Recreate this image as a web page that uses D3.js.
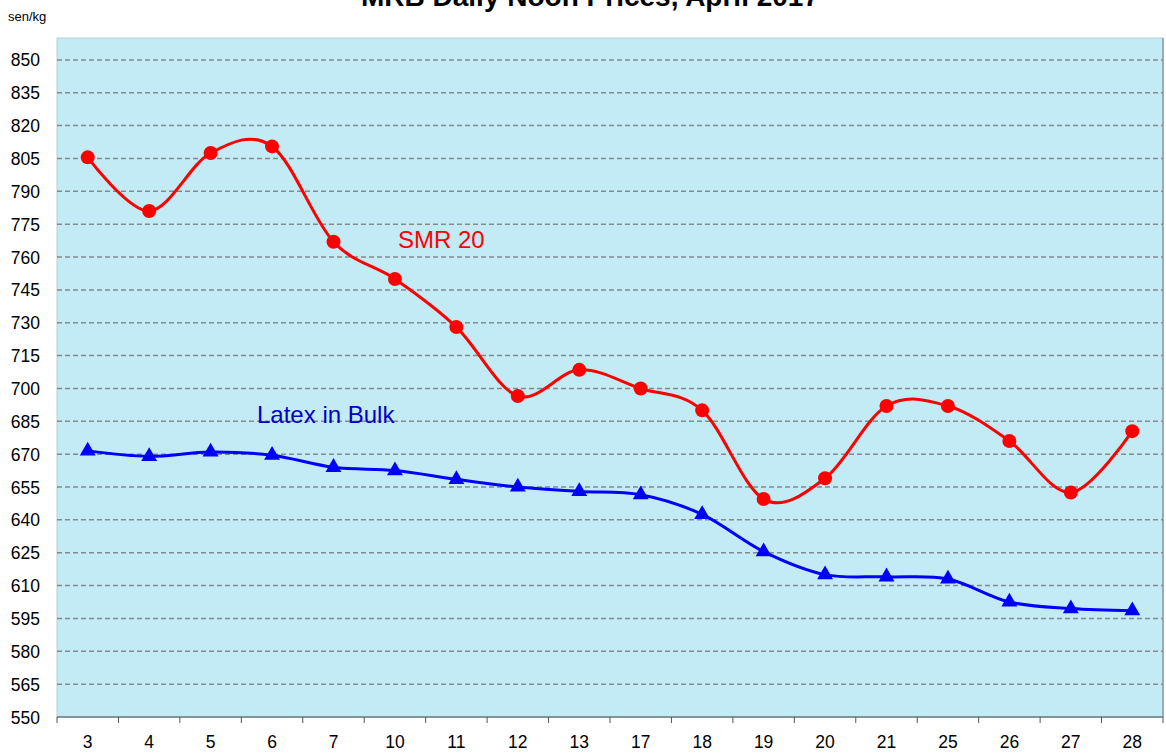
<!DOCTYPE html>
<html>
<head>
<meta charset="utf-8">
<script src="https://cdn.jsdelivr.net/npm/d3@7"></script>
<style>
  body { margin: 0; background: #fff; }
  text { font-family: "Liberation Sans", Arial, sans-serif; }
</style>
</head>
<body>
<div id="chart"></div>
<script>
var days = ["3","4","5","6","7","10","11","12","13","17","18","19","20","21","25","26","27","28"];
var smr20 = [805.5,781,807.5,810.5,767,750,728,696.5,708.5,700,690,649.5,659,692,692,676,652.5,680.5];
var latexBulk = [671.5,669,671,669.5,664,662.5,658.5,655,653,651.5,642.5,625.5,615,614,613,602.5,599.5,598.5];
var yTicks = [550,565,580,595,610,625,640,655,670,685,700,715,730,745,760,775,790,805,820,835,850];

(function(){
  var width = 1166, height = 755;
  var pl = 57, pr = 1163, pt = 38, pb = 717;

  var svg = d3.select("#chart").append("svg")
    .attr("width", width)
    .attr("height", height);

  var x = d3.scaleBand().domain(days).range([pl, pr]);
  var y = d3.scaleLinear().domain([550, 860]).range([pb, pt]);

  // plot background
  svg.append("rect")
    .attr("x", pl).attr("y", pt)
    .attr("width", pr - pl).attr("height", pb - pt)
    .attr("fill", "#c2ebf5")
    .attr("stroke", "#b8d0d6")
    .attr("stroke-width", 1);

  // right edge a bit darker
  svg.append("line")
    .attr("x1", pr).attr("x2", pr).attr("y1", pt).attr("y2", pb)
    .attr("stroke", "#8a9a9e").attr("stroke-width", 1.5);

  // grid lines
  svg.append("g").selectAll("line")
    .data(yTicks.filter(function(d){ return d > 550; }))
    .join("line")
    .attr("x1", pl).attr("x2", pr)
    .attr("y1", function(d){ return y(d); })
    .attr("y2", function(d){ return y(d); })
    .attr("stroke", "#888")
    .attr("stroke-width", 1.5)
    .attr("stroke-dasharray", "5,3");

  // y axis labels
  svg.append("g").selectAll("text")
    .data(yTicks)
    .join("text")
    .attr("x", 40)
    .attr("y", function(d){ return y(d) + 6.5; })
    .attr("text-anchor", "end")
    .attr("font-size", 17.5)
    .attr("fill", "#000")
    .text(function(d){ return d; });

  // x axis
  var xAxis = d3.axisBottom(x).tickSize(0).tickPadding(0);
  var gx = svg.append("g")
    .attr("transform", "translate(0," + pb + ")")
    .call(xAxis);
  gx.select(".domain").remove();
  gx.selectAll("text")
    .attr("y", 31)
    .attr("dy", null)
    .attr("font-size", 17.5)
    .attr("font-family", "Liberation Sans, Arial, sans-serif")
    .attr("fill", "#000");

  svg.append("line")
    .attr("x1", pl).attr("x2", pr).attr("y1", pb).attr("y2", pb)
    .attr("stroke", "#6c7a7d").attr("stroke-width", 1.5);

  // tick marks between categories
  var edges = days.map(function(d){ return x(d); }).concat([pr]);
  svg.append("g").selectAll("line")
    .data(edges)
    .join("line")
    .attr("x1", function(d){ return d; }).attr("x2", function(d){ return d; })
    .attr("y1", pb).attr("y2", pb + 6)
    .attr("stroke", "#555").attr("stroke-width", 1);

  var cx = function(d, i){ return x(days[i]) + x.bandwidth() / 2; };

  var line = d3.line()
    .x(function(d, i){ return cx(d, i); })
    .y(function(d){ return y(d); })
    .curve(d3.curveCardinal.tension(0));

  // SMR 20
  svg.append("path")
    .attr("d", line(smr20))
    .attr("fill", "none")
    .attr("stroke", "#ff0000")
    .attr("stroke-width", 3);

  svg.append("g").selectAll("circle")
    .data(smr20)
    .join("circle")
    .attr("cx", cx)
    .attr("cy", function(d){ return y(d); })
    .attr("r", 7)
    .attr("fill", "#ff0000");

  // Latex in Bulk
  svg.append("path")
    .attr("d", line(latexBulk))
    .attr("fill", "none")
    .attr("stroke", "#0000ff")
    .attr("stroke-width", 3);

  var tri = d3.symbol().type(d3.symbolTriangle).size(110);
  svg.append("g").selectAll("path")
    .data(latexBulk)
    .join("path")
    .attr("d", tri)
    .attr("transform", function(d, i){ return "translate(" + cx(d, i) + "," + y(d) + ")"; })
    .attr("fill", "#0000ff");

  // series labels
  svg.append("text")
    .attr("x", 398).attr("y", 248)
    .attr("font-size", 24)
    .attr("fill", "#ff0000")
    .text("SMR 20");

  svg.append("text")
    .attr("x", 257).attr("y", 423)
    .attr("font-size", 24)
    .attr("fill", "#0000cc")
    .text("Latex in Bulk");

  // title and unit
  svg.append("text")
    .attr("x", 590).attr("y", 6)
    .attr("text-anchor", "middle")
    .attr("font-size", 28)
    .attr("font-weight", "bold")
    .attr("fill", "#000")
    .text("MRB Daily Noon Prices, April 2017");

  svg.append("text")
    .attr("x", 8).attr("y", 21)
    .attr("font-size", 13)
    .attr("fill", "#000")
    .text("sen/kg");
})();
</script>
</body>
</html>
